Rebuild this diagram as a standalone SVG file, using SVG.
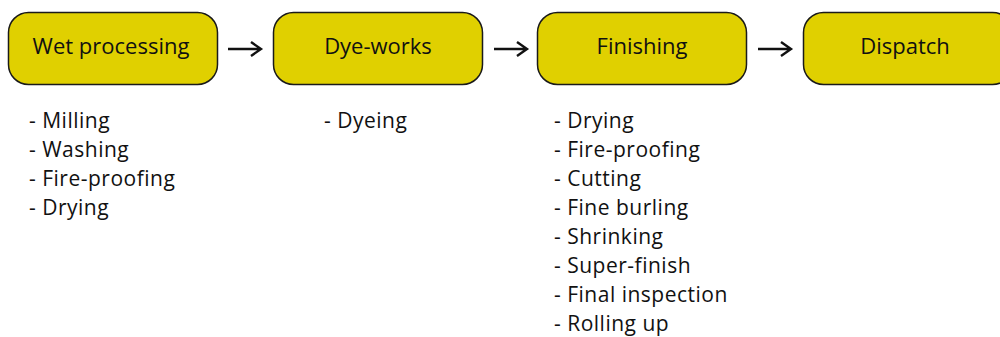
<svg xmlns="http://www.w3.org/2000/svg" width="1000" height="337" viewBox="0 0 1000 337">
<style>
.box{fill:#e0d000;stroke:#1a1a1a;stroke-width:1.5}
.title{font-family:"Open Sans","DejaVu Sans",sans-serif;font-size:22px;fill:#111;text-anchor:middle}
.list{font-family:"Open Sans","DejaVu Sans",sans-serif;font-size:21px;letter-spacing:0.5px;fill:#111}
.conn{stroke:#111;stroke-width:2.4;fill:none}
</style>
<rect width="1000" height="337" fill="#fff"/>
<g id="node-wet">
<rect class="box" x="8.5" y="12.5" width="209" height="72" rx="20"/>
<text class="title" x="111" y="54">Wet processing</text>
<text class="list"><tspan x="29" y="128">- Milling</tspan><tspan x="29" y="157">- Washing</tspan><tspan x="29" y="186">- Fire-proofing</tspan><tspan x="29" y="215">- Drying</tspan></text>
</g>
<g id="node-dye">
<rect class="box" x="273.5" y="12.5" width="209" height="72" rx="20"/>
<text class="title" x="378" y="54">Dye-works</text>
<text class="list" x="324" y="128">- Dyeing</text>
</g>
<g id="node-finishing">
<rect class="box" x="537.5" y="12.5" width="209" height="72" rx="20"/>
<text class="title" x="642" y="54">Finishing</text>
<text class="list"><tspan x="554" y="128">- Drying</tspan><tspan x="554" y="157">- Fire-proofing</tspan><tspan x="554" y="186">- Cutting</tspan><tspan x="554" y="215">- Fine burling</tspan><tspan x="554" y="244">- Shrinking</tspan><tspan x="554" y="273">- Super-finish</tspan><tspan x="554" y="302">- Final inspection</tspan><tspan x="554" y="330.5">- Rolling up</tspan></text>
</g>
<g id="node-dispatch">
<rect class="box" x="803.5" y="12.5" width="209" height="72" rx="20"/>
<text class="title" x="905" y="54">Dispatch</text>
</g>
<g id="connectors">
<path class="conn" d="M228 49H261M251 42L261 49L251 56"/>
<path class="conn" d="M494 49H527M517 42L527 49L517 56"/>
<path class="conn" d="M758 49H791M781 42L791 49L781 56"/>
</g>
</svg>
